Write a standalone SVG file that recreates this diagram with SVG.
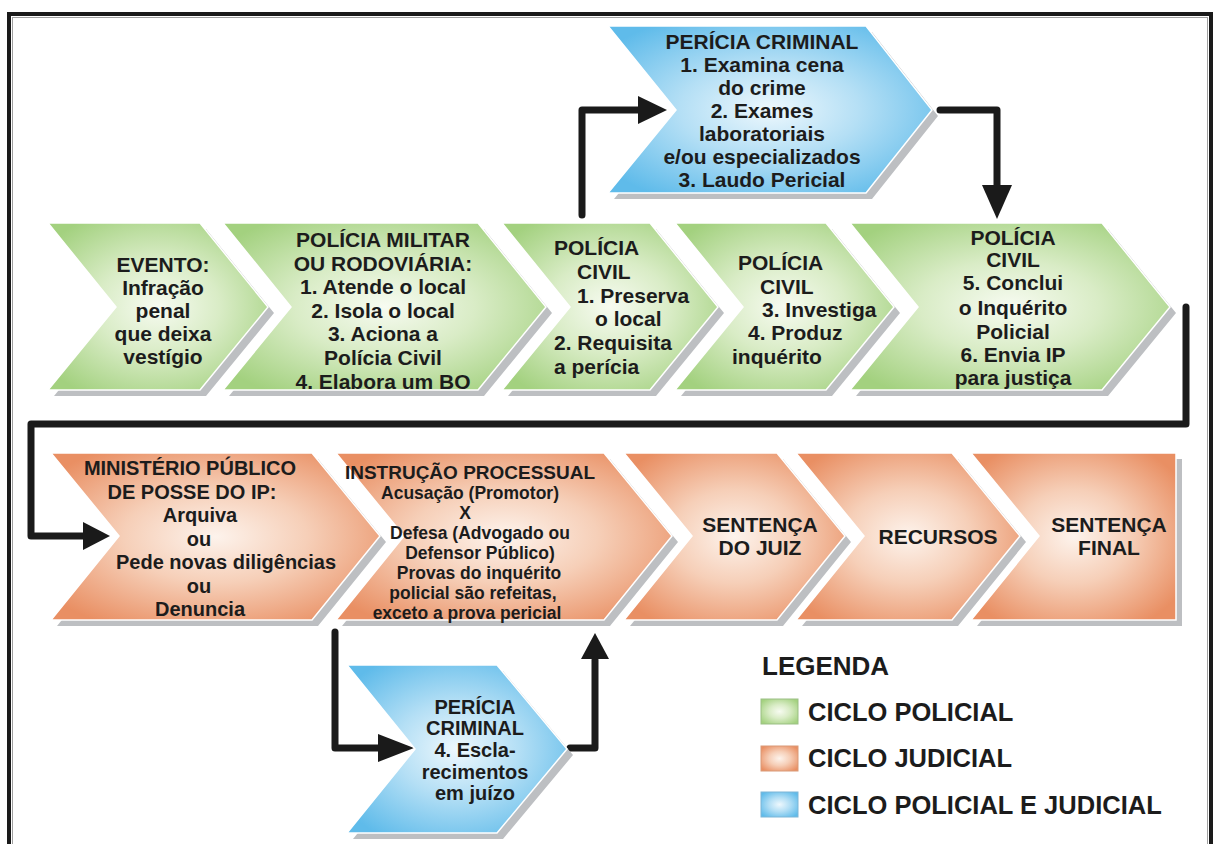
<svg xmlns="http://www.w3.org/2000/svg" width="1216" height="844" viewBox="0 0 1216 844">
  <defs>
    <radialGradient id="gGreen" cx="0.5" cy="0.5" r="0.62">
      <stop offset="0" stop-color="#f7fbf1"/>
      <stop offset="0.45" stop-color="#d9ecc6"/>
      <stop offset="1" stop-color="#a3d17f"/>
    </radialGradient>
    <radialGradient id="gOrange" cx="0.5" cy="0.5" r="0.62">
      <stop offset="0" stop-color="#fdf3ec"/>
      <stop offset="0.45" stop-color="#f6cfb8"/>
      <stop offset="1" stop-color="#e98f63"/>
    </radialGradient>
    <radialGradient id="gBlue" cx="0.5" cy="0.5" r="0.62">
      <stop offset="0" stop-color="#eef8fd"/>
      <stop offset="0.45" stop-color="#b4dff5"/>
      <stop offset="1" stop-color="#5fbbea"/>
    </radialGradient>
  </defs>
  <style>
    .sh { fill: #bdbfc2; }
    .g { fill: url(#gGreen); stroke: #ffffff; stroke-width: 1.5; }
    .o { fill: url(#gOrange); stroke: #ffffff; stroke-width: 1.5; }
    .b { fill: url(#gBlue); stroke: #ffffff; stroke-width: 1.5; }
    text { font-family: "Liberation Sans", Arial, sans-serif; font-weight: bold; fill: #1c1c1c; }
    .t21 { font-size: 21px; }
    .t20 { font-size: 20px; }
    .t19 { font-size: 19px; }
    .t17 { font-size: 17.5px; }
    .c { text-anchor: middle; }
    .leg { font-size: 25.5px; }
    .wire { fill: none; stroke: #1a1a1a; stroke-width: 7; stroke-linecap: round; stroke-linejoin: round; }
    .head { fill: #1a1a1a; }
  </style>

  <!-- page frame -->
  <rect x="9" y="14" width="1202" height="840" fill="#ffffff" stroke="#1a1a1a" stroke-width="4"/>
  <rect x="12.5" y="17.5" width="1195" height="840" fill="none" stroke="#a0a0a0" stroke-width="1"/>

  <!-- connectors -->
  <g id="connectors">
    <path class="wire" d="M582,215 V110 H640"/>
    <polygon class="head" points="638,96 667,110 638,124"/>
    <path class="wire" d="M940,110 H997 V188"/>
    <polygon class="head" points="982,185 997,219 1012,185"/>
    <path class="wire" d="M1186,307 V424 H31 V536 H85"/>
    <polygon class="head" points="83,522 110,536 83,550"/>
    <path class="wire" d="M335,632 V748 H380"/>
    <polygon class="head" points="378,734 414,748 378,762"/>
    <path class="wire" d="M570,748 H595 V660"/>
    <polygon class="head" points="581,659 595,633 609,659"/>
  </g>

  <!-- policial cycle -->
  <g id="evento">
    <polygon class="sh" points="54,229 206,229 274,313 206,396 54,396 122,313"/>
    <polygon class="g" points="48,223 200,223 268,307 200,390 48,390 116,307"/>
    <text class="t21 c" x="163" y="272">EVENTO:</text>
    <text class="t21 c" x="163" y="295">Infração</text>
    <text class="t21 c" x="163" y="318">penal</text>
    <text class="t21 c" x="163" y="341">que deixa</text>
    <text class="t21 c" x="163" y="364">vestígio</text>
  </g>

  <g id="policia-militar">
    <polygon class="sh" points="229,229 484,229 552,313 484,396 229,396 297,313"/>
    <polygon class="g" points="223,223 478,223 546,307 478,390 223,390 291,307"/>
    <text class="t21 c" x="383" y="247">POLÍCIA MILITAR</text>
    <text class="t21 c" x="383" y="271">OU RODOVIÁRIA:</text>
    <text class="t21 c" x="383" y="294">1. Atende o local</text>
    <text class="t21 c" x="383" y="318">2. Isola o local</text>
    <text class="t21 c" x="383" y="341">3. Aciona a</text>
    <text class="t21 c" x="383" y="365">Polícia Civil</text>
    <text class="t21 c" x="383" y="389">4. Elabora um BO</text>
  </g>

  <g id="policia-civil-1">
    <polygon class="sh" points="508,229 656,229 724,313 656,396 508,396 576,313"/>
    <polygon class="g" points="502,223 650,223 718,307 650,390 502,390 570,307"/>
    <text class="t21" x="554" y="255">POLÍCIA</text>
    <text class="t21" x="577" y="279">CIVIL</text>
    <text class="t21" x="577" y="303">1. Preserva</text>
    <text class="t21" x="595" y="326">o local</text>
    <text class="t21" x="554" y="350">2. Requisita</text>
    <text class="t21" x="554" y="374">a perícia</text>
  </g>

  <g id="policia-civil-2">
    <polygon class="sh" points="681,229 832,229 900,313 832,396 681,396 749,313"/>
    <polygon class="g" points="675,223 826,223 894,307 826,390 675,390 743,307"/>
    <text class="t21" x="738" y="270">POLÍCIA</text>
    <text class="t21" x="760" y="294">CIVIL</text>
    <text class="t21" x="762" y="317">3. Investiga</text>
    <text class="t21" x="748" y="340">4. Produz</text>
    <text class="t21" x="732" y="364">inquérito</text>
  </g>

  <g id="policia-civil-3">
    <polygon class="sh" points="856,229 1108,229 1176,313 1108,396 856,396 924,313"/>
    <polygon class="g" points="850,223 1102,223 1170,307 1102,390 850,390 918,307"/>
    <text class="t21 c" x="1013" y="245">POLÍCIA</text>
    <text class="t21 c" x="1013" y="267">CIVIL</text>
    <text class="t21 c" x="1013" y="290">5. Conclui</text>
    <text class="t21 c" x="1013" y="315">o Inquérito</text>
    <text class="t21 c" x="1013" y="339">Policial</text>
    <text class="t21 c" x="1013" y="362">6. Envia IP</text>
    <text class="t21 c" x="1013" y="385">para justiça</text>
  </g>

  <!-- forensic stage, police side -->
  <g id="pericia-1">
    <polygon class="sh" points="614,32 872,32 938,116 872,199 614,199 682,116"/>
    <polygon class="b" points="608,26 866,26 932,110 866,193 608,193 676,110"/>
    <text class="t21 c" x="762" y="49">PERÍCIA CRIMINAL</text>
    <text class="t21 c" x="762" y="72">1. Examina cena</text>
    <text class="t21 c" x="762" y="95">do crime</text>
    <text class="t21 c" x="762" y="118">2. Exames</text>
    <text class="t21 c" x="762" y="141">laboratoriais</text>
    <text class="t21 c" x="762" y="164">e/ou especializados</text>
    <text class="t21 c" x="762" y="187">3. Laudo Pericial</text>
  </g>

  <!-- judicial cycle -->
  <g id="ministerio-publico">
    <polygon class="sh" points="57,459 318,459 386,542 318,626 57,626 125,542"/>
    <polygon class="o" points="51,453 312,453 380,536 312,620 51,620 119,536"/>
    <text class="t20 c" x="190" y="475">MINISTÉRIO PÚBLICO</text>
    <text class="t20 c" x="192" y="499">DE POSSE DO IP:</text>
    <text class="t20 c" x="200" y="522">Arquiva</text>
    <text class="t20 c" x="199" y="546">ou</text>
    <text class="t20 c" x="226" y="569">Pede novas diligências</text>
    <text class="t20 c" x="199" y="593">ou</text>
    <text class="t20 c" x="200" y="616">Denuncia</text>
  </g>

  <g id="instrucao-processual">
    <polygon class="sh" points="342,459 610,459 678,542 610,626 342,626 410,542"/>
    <polygon class="o" points="336,453 604,453 672,536 604,620 336,620 404,536"/>
    <text class="t19 c" x="470" y="479">INSTRUÇÃO PROCESSUAL</text>
    <text class="t17 c" x="470" y="499">Acusação (Promotor)</text>
    <text class="t17 c" x="465" y="519">X</text>
    <text class="t17 c" x="480" y="539">Defesa (Advogado ou</text>
    <text class="t17 c" x="480" y="559">Defensor Público)</text>
    <text class="t17 c" x="479" y="579">Provas do inquérito</text>
    <text class="t17 c" x="473" y="599">policial são refeitas,</text>
    <text class="t17 c" x="467" y="619">exceto a prova pericial</text>
  </g>

  <g id="sentenca-juiz">
    <polygon class="sh" points="630,459 783,459 851,542 783,626 630,626 698,542"/>
    <polygon class="o" points="624,453 777,453 845,536 777,620 624,620 692,536"/>
    <text class="t21 c" x="760" y="532">SENTENÇA</text>
    <text class="t21 c" x="760" y="555">DO JUIZ</text>
  </g>

  <g id="recursos">
    <polygon class="sh" points="802,459 958,459 1026,542 958,626 802,626 870,542"/>
    <polygon class="o" points="796,453 952,453 1020,536 952,620 796,620 864,536"/>
    <text class="t21 c" x="938" y="544">RECURSOS</text>
  </g>

  <g id="sentenca-final">
    <polygon class="sh" points="977,459 1182,459 1182,626 977,626 1045,542"/>
    <polygon class="o" points="971,453 1176,453 1176,620 971,620 1039,536"/>
    <text class="t21 c" x="1109" y="532">SENTENÇA</text>
    <text class="t21 c" x="1109" y="555">FINAL</text>
  </g>

  <!-- forensic stage, court side -->
  <g id="pericia-2">
    <polygon class="sh" points="353,671 503,671 573,755 503,839 353,839 421,755"/>
    <polygon class="b" points="347,665 497,665 567,749 497,833 347,833 415,749"/>
    <text class="t20 c" x="475" y="714">PERÍCIA</text>
    <text class="t20 c" x="475" y="735">CRIMINAL</text>
    <text class="t20 c" x="475" y="757">4. Escla-</text>
    <text class="t20 c" x="475" y="779">recimentos</text>
    <text class="t20 c" x="475" y="800">em juízo</text>
  </g>

  <!-- legend -->
  <g id="legenda">
    <text x="762" y="675" style="font-size:26px">LEGENDA</text>
    <rect x="761" y="699" width="37" height="25" fill="url(#gGreen)" stroke="#9bbf85" stroke-width="1"/>
    <text class="leg" x="808" y="721">CICLO POLICIAL</text>
    <rect x="761" y="746" width="37" height="25" fill="url(#gOrange)" stroke="#d99a78" stroke-width="1"/>
    <text class="leg" x="808" y="767">CICLO JUDICIAL</text>
    <rect x="761" y="792" width="37" height="25" fill="url(#gBlue)" stroke="#7fb6d6" stroke-width="1"/>
    <text class="leg" x="808" y="814">CICLO POLICIAL E JUDICIAL</text>
  </g>
</svg>
